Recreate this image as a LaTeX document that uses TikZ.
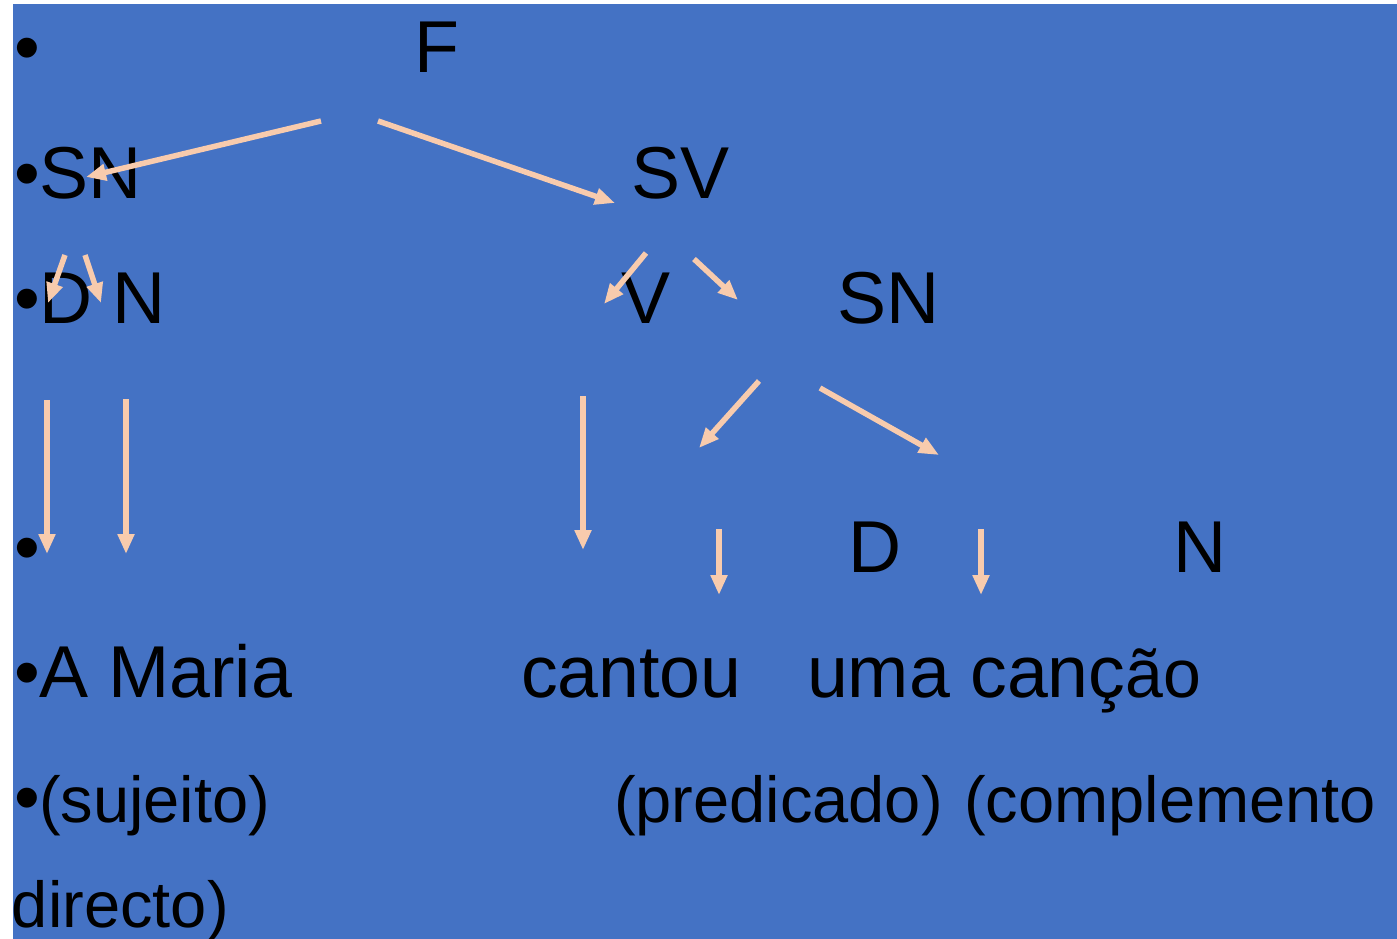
\documentclass[tikz,border=0pt]{standalone}
\usepackage{fontspec}
\setmainfont{Liberation Sans}
\usetikzlibrary{arrows.meta}
\definecolor{slideblue}{HTML}{4472C4}
\definecolor{peach}{HTML}{F8CBAD}
\begin{document}
\begin{tikzpicture}[x=1pt,y=-1pt,
  big/.style={anchor=base west,inner sep=0pt,outer sep=0pt,font=\fontsize{73.5}{80}\selectfont},
  small/.style={anchor=base west,inner sep=0pt,outer sep=0pt,font=\fontsize{65}{72}\selectfont},
  arr/.style={draw=peach,line width=5.5pt,-{Triangle[width=16pt,length=20pt]}}]
\useasboundingbox (0,0) rectangle (1397,939);
\fill[slideblue] (13,4) rectangle (1397,939);
% bullets
\foreach \y/\n in {73/1,198/2,323/3,572/4,697/5,822/6}{
  \node[big] (b\n) at (14,\y) {•};
}
% row 1
\node[big] (F) at (414,73) {F};
% row 2
\node[big] (SN1) at (39,198) {SN};
\node[big] (SV) at (631,198) {SV};
% row 3
\node[big] (D1) at (39,323) {D};
\node[big] (N1) at (112,323) {N};
\node[big] (V) at (621,323) {V};
\node[big] (SN2) at (837,323) {SN};
% row 4
\node[big] (D2) at (848,572) {D};
\node[big] (N2) at (1173,572) {N};
% row 5
\node[big] (AMaria) at (39,697) {A Maria};
\node[big] (cancao) at (807,697) {uma canç{\fontsize{68}{72}\selectfont ão}};
\node[big] (cantou) at (521,697) {cantou};
% row 6
\node[small] (sujeito) at (39,822) {(sujeito)};
\node[small] (predicado) at (614,822) {(predicado)};
\node[small] (complemento) at (964,822) {(complemento};
% row 7
\node[small] (directo) at (12,927) {directo)};
% arrow end points
\coordinate (a1s) at (321,121); \coordinate (a1e) at (86,177);
\coordinate (a2s) at (378,121); \coordinate (a2e) at (615,203);
\coordinate (a3s) at (65,255); \coordinate (a3e) at (48,303);
\coordinate (a4s) at (85,255); \coordinate (a4e) at (101,303);
\coordinate (a5s) at (646,253); \coordinate (a5e) at (604,304);
\coordinate (a6s) at (694,259); \coordinate (a6e) at (738,300);
\coordinate (a7s) at (759,381); \coordinate (a7e) at (699,448);
\coordinate (a8s) at (820,388); \coordinate (a8e) at (939,455);
\coordinate (a9s) at (47,400); \coordinate (a9e) at (47,554);
\coordinate (a10s) at (126,399); \coordinate (a10e) at (126,554);
\coordinate (a11s) at (583,396); \coordinate (a11e) at (583,550);
\coordinate (a12s) at (719,529); \coordinate (a12e) at (719,595);
\coordinate (a13s) at (981,529); \coordinate (a13e) at (981,595);
\foreach \i in {1,...,13}{
  \draw[arr] (a\i s) -- (a\i e);
}
\end{tikzpicture}
\end{document}
